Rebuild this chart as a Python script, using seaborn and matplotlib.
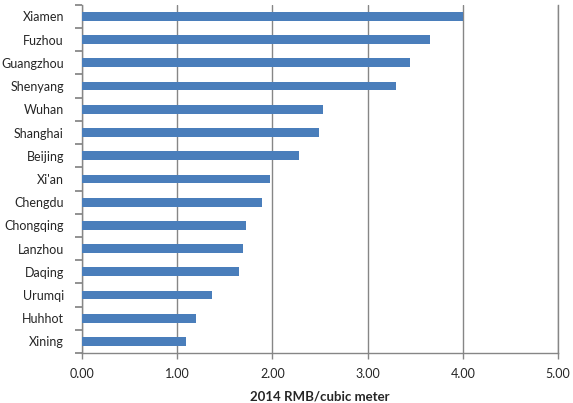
import numpy as np
import pandas as pd
import matplotlib
matplotlib.use("Agg")
import matplotlib.pyplot as plt
import seaborn as sns

cities = ["Xiamen", "Fuzhou", "Guangzhou", "Shenyang", "Wuhan", "Shanghai", "Beijing",
          "Xi'an", "Chengdu", "Chongqing", "Lanzhou", "Daqing", "Urumqi", "Huhhot", "Xining"]
prices = [4.00, 3.65, 3.44, 3.30, 2.53, 2.49, 2.28, 1.97, 1.89, 1.72, 1.69, 1.65, 1.37, 1.20, 1.09]
xticks = [0, 1, 2, 3, 4, 5]

df = pd.DataFrame({"city": cities, "price": prices})

sns.set_style("white", {"xtick.bottom": True, "ytick.left": True})
plt.rcParams['font.family'] = ['Lato', 'DejaVu Sans']

fig = plt.figure(figsize=(5.73, 4.03), dpi=100)
ax = fig.add_axes([0.143, 0.124, 0.831, 0.864])

sns.barplot(data=df, x="price", y="city", orient="h", color="#4a7ebb",
            saturation=1, width=0.38, linewidth=0, ax=ax, zorder=3)

ax.set_xlim(0, 5)
ax.set_ylim(len(cities) - 0.5, -0.5)
ax.set_xticks(xticks)
ax.set_xticklabels([f"{v:.2f}" for v in xticks])
ax.xaxis.grid(True, color="#868686", linewidth=1)
ax.set_axisbelow(True)

ax.spines["top"].set_visible(False)
for s in ["left", "bottom", "right"]:
    ax.spines[s].set_color("#868686")
    ax.spines[s].set_linewidth(1)

ax.tick_params(axis="x", direction="out", length=4, width=1, color="#868686", labelsize=9, pad=7, bottom=True)
ax.tick_params(axis="y", which="major", length=0, labelsize=9, pad=13)
ax.set_yticks(np.arange(len(cities) + 1) - 0.5, minor=True)
ax.tick_params(axis="y", which="minor", direction="out", length=5, width=1.2, color="#7f7f7f", left=True)

ax.set_ylabel("")
ax.set_xlabel("2014 RMB/cubic meter", fontweight="bold", fontsize=9.5, labelpad=7)

fig.savefig("out.png", dpi=100)
